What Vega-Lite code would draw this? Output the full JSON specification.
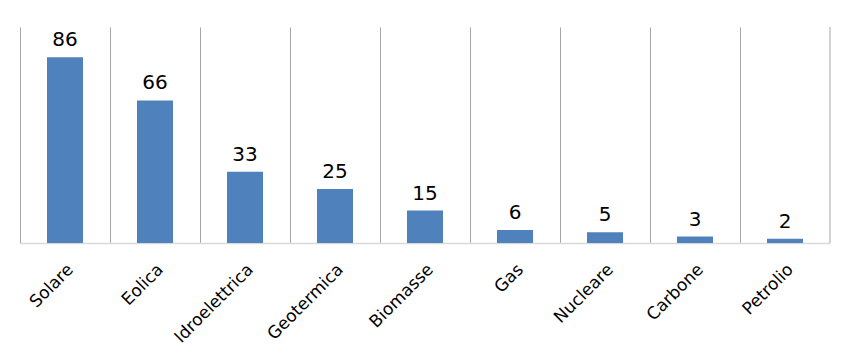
{
  "$schema": "https://vega.github.io/schema/vega-lite/v6.json",
  "width": 810,
  "height": 216,
  "autosize": "none",
  "padding": {"left": 20, "top": 27, "right": 26, "bottom": 115},
  "background": "white",
  "config": {"view": {"stroke": null}, "font": "DejaVu Sans"},
  "data": {"values": [
    {"fonte": "Solare", "valore": 86},
    {"fonte": "Eolica", "valore": 66},
    {"fonte": "Idroelettrica", "valore": 33},
    {"fonte": "Geotermica", "valore": 25},
    {"fonte": "Biomasse", "valore": 15},
    {"fonte": "Gas", "valore": 6},
    {"fonte": "Nucleare", "valore": 5},
    {"fonte": "Carbone", "valore": 3},
    {"fonte": "Petrolio", "valore": 2}
  ]},
  "encoding": {
    "x": {"field": "fonte", "type": "nominal", "sort": null,
      "scale": {"paddingInner": 0, "paddingOuter": 0},
      "axis": {"title": null, "labelAngle": -45, "labelFontSize": 17, "labelColor": "#000000",
        "labelPadding": 18, "ticks": false, "grid": true, "bandPosition": 0,
        "gridColor": "#a6a6a6", "gridWidth": 1, "domainColor": "#d9d9d9", "domainWidth": 1.5, "zindex": 0}},
    "y": {"field": "valore", "type": "quantitative",
      "scale": {"domain": [0, 100], "nice": false},
      "axis": null}
  },
  "layer": [
    {"mark": {"type": "bar", "color": "#4f81bd", "width": {"band": 0.4}}},
    {"mark": {"type": "rule", "color": "#a6a6a6", "strokeWidth": 1},
     "transform": [{"filter": "datum.fonte === 'Petrolio'"}],
     "encoding": {"x": {"field": "fonte", "type": "nominal", "sort": null, "bandPosition": 1}, "y": {"value": 0}, "y2": {"value": 216}}},
    {"mark": {"type": "text", "dy": -17, "fontSize": 20, "color": "#000000"},
     "encoding": {"text": {"field": "valore", "type": "quantitative"}}}
  ]
}
